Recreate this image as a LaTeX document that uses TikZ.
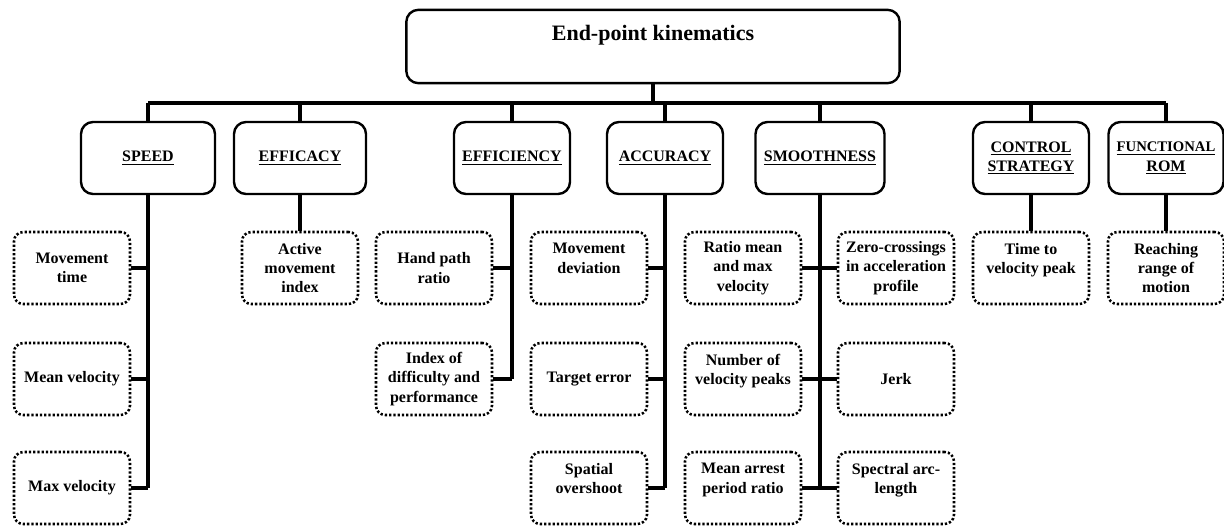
\documentclass[tikz,border=0pt]{standalone}
\usepackage{fontspec}
\setmainfont{Liberation Serif}
\usepackage{tikz}
\usetikzlibrary{positioning, calc}
\tikzset{
    leafbox/.style={draw, line width=1.9pt, dash pattern=on 1.7pt off 1.5pt, rounded corners=7pt,
        minimum width=87pt, minimum height=54pt, align=center, inner sep=1pt,
        font=\fontsize{12}{14.5}\selectfont\bfseries}
}

\begin{document}
\begin{tikzpicture}[
    x=0.75pt, y=-0.75pt,
    rootbox/.style={draw, line width=1.8pt, rounded corners=9pt, minimum width=370pt,
        minimum height=55pt, align=center, font=\fontsize{16.5}{20}\selectfont\bfseries},
    catbox/.style={draw, line width=1.8pt, rounded corners=9pt, minimum height=54pt,
        align=center, font=\fontsize{12}{14.5}\selectfont\bfseries},
    link/.style={line width=2.3pt}
]
\useasboundingbox (0,0) rectangle (1224,526);

% Root
\node[rootbox] (root) at (653,46.5) {End-point kinematics\\[0pt]~};
\coordinate (bus) at (653,103);

% Categories
\foreach \name/\x/\w/\txt in {speed/148/134/{\underline{SPEED}},
    efficacy/300/132/{\underline{EFFICACY}},
    efficiency/512/116/{\underline{EFFICIENCY}},
    accuracy/665/116/{\underline{ACCURACY}},
    smooth/820/129/{\underline{SMOOTHNESS}},
    ctrl/1031/116/{\underline{CONTROL}\\\underline{STRATEGY}},
    rom/1166/115/{\underline{\fontsize{11}{14.5}\selectfont FUNCTIONAL}\\\underline{ROM}}} {
    \node[catbox, minimum width=\w*0.75pt] (\name) at (\x,158) {\txt};
}

% Speed leaves
\foreach \i/\y/\txt in {1/268/{Movement\\time}, 2/379/{Mean velocity}, 3/488/{Max velocity}} {
    \node[leafbox] (spd\i) at (72,\y) {\txt};
}
% Efficacy leaf
\node[leafbox] (eca1) at (300,268) {Active\\movement\\index};
% Efficiency leaves
\node[leafbox] (efi1) at (434,268) {Hand path\\ratio};
\node[leafbox] (efi2) at (434,379) {Index of\\difficulty and\\performance};
% Accuracy leaves
\foreach \i/\y/\txt in {1/268/{Movement\\deviation\\~}, 2/379/{Target error}, 3/488/{Spatial\\overshoot\\~}} {
    \node[leafbox] (acc\i) at (589,\y) {\txt};
}
% Smoothness leaves
\foreach \i/\y/\txt in {1/268/{Ratio mean\\and max\\velocity}, 2/379/{Number of\\velocity peaks\\~},
    3/488/{Mean arrest\\period ratio\\~}} {
    \node[leafbox] (smL\i) at (743,\y) {\txt};
}
\foreach \i/\y/\txt in {1/268/{Zero-crossings\\in acceleration\\profile}, 2/379/{Jerk},
    3/488/{Spectral arc-\\length\\~}} {
    \node[leafbox] (smR\i) at (896,\y) {\txt};
}
% Control strategy and functional ROM leaves
\node[leafbox] (ctr1) at (1031,268) {Time to\\velocity peak\\~};
\node[leafbox] (rom1) at (1166,268) {Reaching\\range of\\motion};

% Tree connectors
\draw[link] (root.south) -- (bus);
\draw[link] (speed.north |- bus) -- (rom.north |- bus);
\foreach \c in {speed, efficacy, efficiency, accuracy, smooth, ctrl, rom} {
    \draw[link] (\c.north) -- (\c.north |- bus);
}

\draw[link] (speed.south) -- (speed.south |- spd3.east);
\foreach \i in {1,2,3} {
    \draw[link] (spd\i.east) -- (speed.south |- spd\i.east);
}
\draw[link] (efficacy.south) -- (eca1.north);
\draw[link] (efficiency.south) -- (efficiency.south |- efi2.east);
\foreach \i in {1,2} {
    \draw[link] (efi\i.east) -- (efficiency.south |- efi\i.east);
}
\draw[link] (accuracy.south) -- (accuracy.south |- acc3.east);
\foreach \i in {1,2,3} {
    \draw[link] (acc\i.east) -- (accuracy.south |- acc\i.east);
}
\draw[link] (smooth.south) -- (smooth.south |- smL3.east);
\foreach \i in {1,2,3} {
    \draw[link] (smL\i.east) -- (smR\i.west);
}
\draw[link] (ctrl.south) -- (ctr1.north);
\draw[link] (rom.south) -- (rom1.north);

\end{tikzpicture}
\end{document}
